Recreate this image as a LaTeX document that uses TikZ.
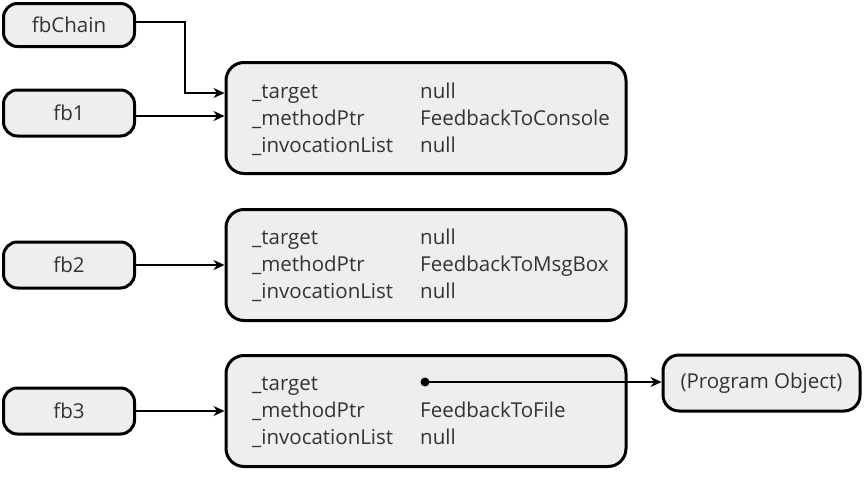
\documentclass[tikz,border=0pt]{standalone}
\usepackage{fontspec}
\setmainfont{Open Sans}
\usetikzlibrary{arrows.meta}
\definecolor{boxfill}{HTML}{EEEEEE}
\definecolor{txt}{HTML}{333333}
\tikzset{
  refbox/.style={draw=black, line width=3pt, fill=boxfill, rounded corners=14pt, text=txt, font=\fontsize{20.5}{24}\selectfont, inner sep=0pt},
  objbox/.style={draw=black, line width=3pt, fill=boxfill, rounded corners=18pt},
  fld/.style={text=txt, font=\fontsize{20.5}{24}\selectfont, anchor=base west, inner sep=0pt},
  conn/.style={line width=2.8pt, -{Stealth[length=11pt,width=10pt]}},
}
\begin{document}
\begin{tikzpicture}[x=1pt,y=-1pt]
\useasboundingbox (0,0) rectangle (865,477);
% left reference boxes
\node[refbox, minimum width=131pt, minimum height=43pt] (fbChain) at (69,25) {fbChain};
\node[refbox, minimum width=131pt, minimum height=46pt] (fb1) at (69,113) {fb1};
\node[refbox, minimum width=131pt, minimum height=46pt] (fb2) at (69,265) {fb2};
\node[refbox, minimum width=131pt, minimum height=46pt] (fb3) at (69,411) {fb3};
% delegate objects
\node[objbox, minimum width=400pt, minimum height=111pt] (d1) at (426,118) {};
\node[objbox, minimum width=400pt, minimum height=111pt] (d2) at (426,265) {};
\node[objbox, minimum width=400pt, minimum height=111pt] (d3) at (426,411) {};
% fields
\node[fld] (t1) at (252,98) {\_target};
\node[fld] (m1) at (252,125) {\_methodPtr};
\node[fld] (i1) at (252,152) {\_invocationList};
\node[fld] (tv1) at (420,98) {null};
\node[fld] (mv1) at (420,125) {FeedbackToConsole};
\node[fld] (iv1) at (420,152) {null};
\node[fld] (t2) at (252,244) {\_target};
\node[fld] (m2) at (252,271) {\_methodPtr};
\node[fld] (i2) at (252,298) {\_invocationList};
\node[fld] (tv2) at (420,244) {null};
\node[fld] (mv2) at (420,271) {FeedbackToMsgBox};
\node[fld] (iv2) at (420,298) {null};
\node[fld] (t3) at (252,390) {\_target};
\node[fld] (m3) at (252,417) {\_methodPtr};
\node[fld] (i3) at (252,444) {\_invocationList};
\node[fld] (mv3) at (420,417) {FeedbackToFile};
\node[fld] (iv3) at (420,444) {null};
% program object
\node[refbox, rounded corners=16pt, minimum width=197pt, minimum height=56pt] (prog) at (761.5,383) {(Program Object)};
% connectors
\coordinate (dot) at (425,382);
\draw[conn] (fbChain.east |- 0,22) -| (185,93) -- (d1.west |- 0,93);
\draw[conn] (fb1.east |- 0,116) -- (d1.west |- 0,116);
\draw[conn] (fb2.east) -- (d2.west |- fb2.east);
\draw[conn] (fb3.east) -- (d3.west |- fb3.east);
\fill (dot) circle (4.5pt);
\draw[conn] (dot) -- (prog.west |- dot);
\end{tikzpicture}
\end{document}
